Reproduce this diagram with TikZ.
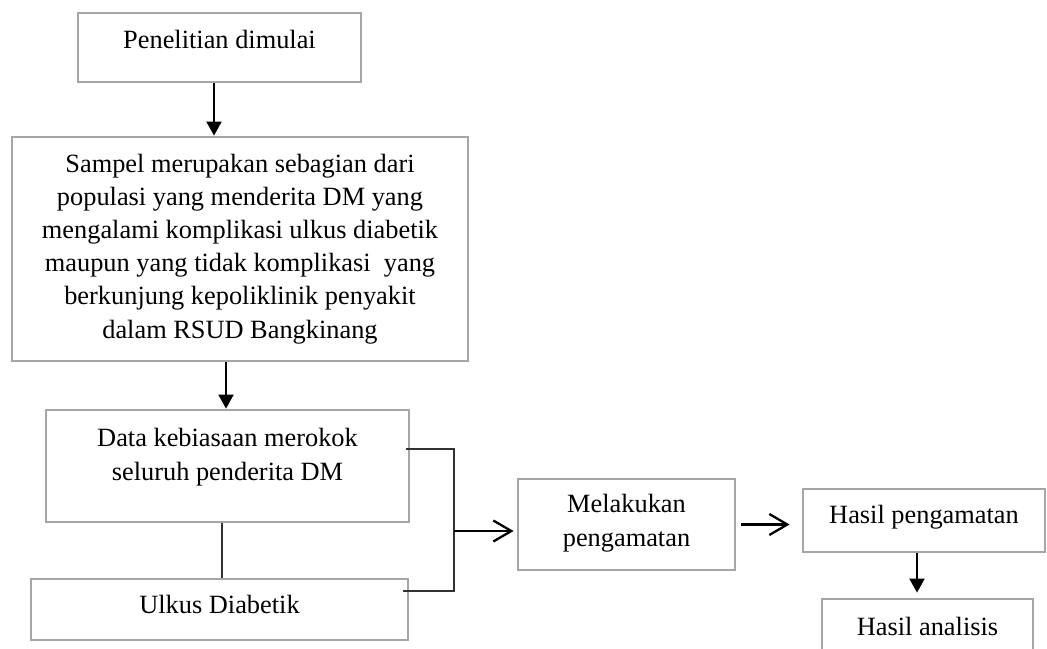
\documentclass[tikz,border=0pt]{standalone}
\usepackage{fontspec}
\setmainfont{Liberation Serif}
\usetikzlibrary{positioning,arrows.meta}
\definecolor{bordergray}{RGB}{166,166,166}
\definecolor{linkgray}{RGB}{50,50,50}

\begin{document}
\begin{tikzpicture}[node distance=4cm, auto]
    \tikzstyle{process}=[rectangle, draw=bordergray, line width=1.6pt, inner sep=0pt, align=center, font=\fontsize{15}{18.8}\selectfont]
    \tikzstyle{arrow}=[-{Triangle[length=0.28cm,width=0.3cm]}, line width=1.2pt]
    \tikzstyle{openarrow}=[-{Straight Barb[length=0.36cm,width=0.42cm]}, line width=1.3pt]
    \tikzstyle{link}=[line width=0.8pt, draw=linkgray]

    \useasboundingbox (0,0) rectangle (20.94,-12.96);
    \clip (0,0) rectangle (20.94,-12.96);

    % Left column
    \node[process, minimum width=5.66cm, minimum height=1.38cm, text height=0.70cm, text depth=0.68cm] (start) at (4.39,-0.95) {Penelitian dimulai};
    \node[process, minimum width=9.12cm, minimum height=4.48cm, text height=4.02cm, text depth=0.46cm] (sampel) [below of=start, xshift=0.41cm, yshift=-0.03cm] {Sampel merupakan sebagian dari\\populasi yang menderita DM yang\\mengalami komplikasi ulkus diabetik\\maupun yang tidak komplikasi\ \ yang\\berkunjung kepoliklinik penyakit\\dalam RSUD Bangkinang};
    \node[process, minimum width=7.26cm, minimum height=2.24cm, text height=1.40cm, text depth=0.84cm] (data) [below of=sampel, xshift=-0.25cm, yshift=-0.34cm] {Data kebiasaan merokok\\seluruh penderita DM};
    \node[process, minimum width=7.54cm, minimum height=1.22cm, text height=0.68cm, text depth=0.54cm] (ulkus) [below of=data, xshift=-0.16cm, yshift=1.13cm] {Ulkus Diabetik};

    % Right side
    \node[process, minimum width=4.34cm, minimum height=1.82cm, text height=1.34cm, text depth=0.48cm] (amati) [right of=data, xshift=3.98cm, yshift=-1.17cm] {Melakukan\\pengamatan};
    \node[process, minimum width=4.84cm, minimum height=1.26cm, text height=0.68cm, text depth=0.58cm] (hasil) [right of=amati, xshift=1.95cm, yshift=0.08cm] {Hasil pengamatan};
    \node[process, minimum width=4.22cm, minimum height=1.22cm, text height=0.72cm, text depth=0.50cm] (analisis) [below of=hasil, xshift=0.07cm, yshift=1.82cm] {Hasil analisis};

    \coordinate (merge) at (9.08,-10.62);

    % Arrows
    \draw[arrow] ([xshift=-0.11cm]start.south) -- ([xshift=-0.11cm]start.south |- sampel.north);
    \draw[arrow] ([xshift=-0.03cm]data.north |- sampel.south) -- ([xshift=-0.03cm]data.north);
    \draw[link] ([xshift=-0.11cm]data.south) -- ([xshift=-0.11cm]data.south |- ulkus.north);
    \draw[link] ([xshift=-0.08cm,yshift=0.34cm]data.east) -| (merge);
    \draw[link] ([xshift=-0.12cm,yshift=0.37cm]ulkus.east) -| (merge);
    \draw[openarrow] (merge) -- ([xshift=-0.06cm]merge -| amati.west);
    \draw[openarrow] ([xshift=0.1cm]amati.east) -- ([xshift=-0.24cm]amati.east -| hasil.west);
    \draw[arrow, shorten >=0.1cm] ([xshift=-0.14cm]hasil.south) -- ([xshift=-0.14cm]hasil.south |- analisis.north);
\end{tikzpicture}
\end{document}
